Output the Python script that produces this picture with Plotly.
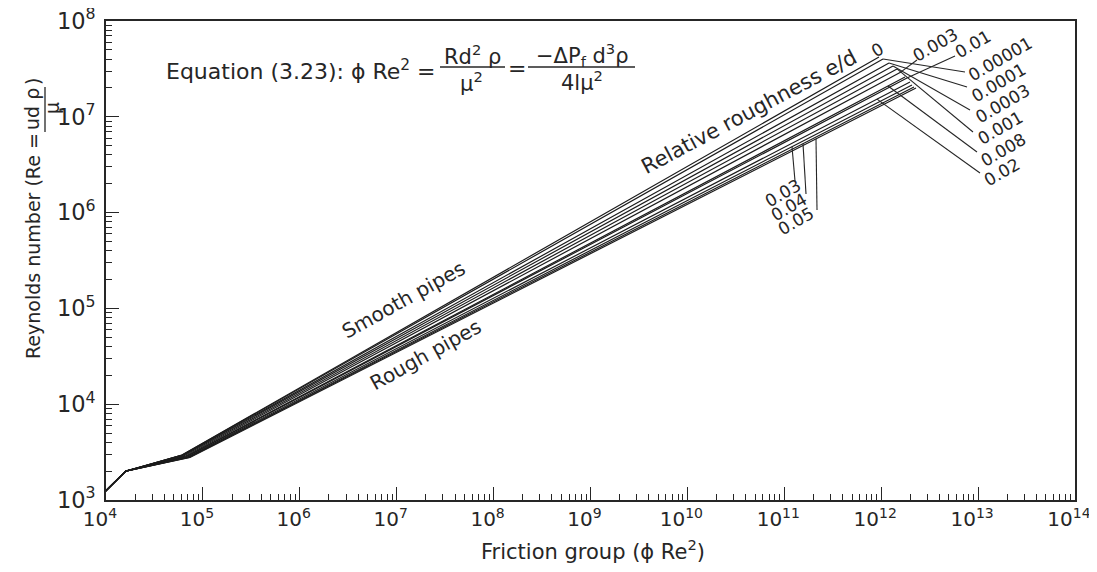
import numpy as np
import plotly.graph_objects as go

# ---------------- data ----------------
roughness = ["0", "0.00001", "0.0001", "0.0003", "0.001", "0.003",
             "0.008", "0.01", "0.02", "0.03", "0.04", "0.05"]

# laminar segment shared by all curves (phi Re^2 , Re)
laminar_x = [8.0e3, 1.6e4]
laminar_y = [1.0e3, 2.0e3]

# start of each turbulent curve (end of transition)
start_x = [6.09e4, 6.09e4, 6.16e4, 6.23e4, 6.38e4, 6.54e4,
           6.69e4, 6.77e4, 6.94e4, 7.10e4, 7.19e4, 7.36e4]
start_y = [2950, 2950, 2935, 2921, 2893, 2866,
           2838, 2825, 2804, 2791, 2784, 2777]

# upper end of each curve
end_x = [9.49e11, 1.044e12, 1.204e12, 1.324e12, 1.456e12, 1.601e12,
         1.761e12, 1.846e12, 1.982e12, 2.079e12, 2.180e12, 2.286e12]
end_y = [4.21e7, 4.01e7, 3.64e7, 3.39e7, 3.16e7, 2.94e7,
         2.60e7, 2.54e7, 2.31e7, 2.15e7, 2.05e7, 2.00e7]

# ---------------- figure ----------------
FONT = "DejaVu Sans"
INK = "#262626"
OFF = 8                            # default page (body) margin of the html page
L, R, T, B = 106, 1075, 21, 500    # plot area in window pixels
W, H = 1097 - 2 * OFF, 572 - 2 * OFF   # page fits the window exactly (no scrollbars)


def px(xp):
    return (xp - L) / (R - L)


def py(yp):
    return (B - yp) / (B - T)


fig = go.Figure()
curves = []
for i, r in enumerate(roughness):
    xs = laminar_x + [start_x[i], end_x[i]]
    ys = laminar_y + [start_y[i], end_y[i]]
    curves.append((np.log10(xs), np.log10(ys)))
    fig.add_trace(go.Scatter(x=xs, y=ys, mode="lines", name=r,
                             line=dict(color="#1c1c1c", width=1.2),
                             showlegend=False, hoverinfo="skip"))

axis_common = dict(
    type="log", dtick=1, exponentformat="power",
    showgrid=False, zeroline=False, showline=True, mirror=True,
    linecolor=INK, linewidth=1.5, automargin=False,
    ticks="inside", ticklen=13, tickwidth=1.2, tickcolor=INK,
    ticklabeloverflow="allow",
    minor=dict(ticks="inside", ticklen=6, tickwidth=1, tickcolor=INK,
               dtick="D1", showgrid=False),
)
fig.update_xaxes(range=[4, 14], ticklabelstandoff=1, ticklabelshift=-6,
                 tickfont=dict(family=FONT, size=16, color=INK), **axis_common)
fig.update_yaxes(range=[3, 8], ticklabelstandoff=5,
                 tickfont=dict(family=FONT, size=18, color=INK), **axis_common)

fig.update_layout(
    width=W, height=H,
    margin=dict(l=L - OFF, r=W - (R - OFF), t=T - OFF, b=H - (B - OFF),
                autoexpand=False),
    paper_bgcolor="white", plot_bgcolor="white",
    font=dict(family=FONT, color=INK, size=20),
    showlegend=False,
)

annotations = []
shapes = []


def text(t, xp, yp, size=20, angle=0, xanchor="center", yanchor="middle"):
    annotations.append(dict(text=t, x=px(xp), y=py(yp), xref="paper", yref="paper",
                            showarrow=False, textangle=angle,
                            xanchor=xanchor, yanchor=yanchor,
                            font=dict(family=FONT, size=size, color=INK)))


def seg(x0, y0, x1, y1, w=1.3):
    shapes.append(dict(type="line", xref="paper", yref="paper",
                       x0=px(x0), y0=py(y0), x1=px(x1), y1=py(y1),
                       line=dict(color=INK, width=w)))


# x-axis title
text("Friction group (ϕ Re<sup>2</sup>)", 593, 550, size=21)

# y-axis title with fraction
text("Reynolds number (Re =", 33, 246, size=19, angle=-90)
text("ud ρ", 32, 109, size=19, angle=-90)
seg(45, 87, 45, 132)
text("μ", 52, 108, size=19, angle=-90)
text(")", 33, 82, size=19, angle=-90)

# equation
text("Equation (3.23): ϕ Re<sup>2</sup> =", 438, 70, size=22, xanchor="right")
text("Rd<sup>2</sup> ρ", 472, 55, size=21)
seg(440, 67, 505, 67)
text("μ<sup>2</sup>", 471, 82, size=21)
text("=", 517, 68, size=22)
text("−ΔP<sub>f</sub> d<sup>3</sup>ρ", 582, 55, size=21)
seg(528, 67, 635, 67)
text("4lμ<sup>2</sup>", 582, 81, size=21)

# region labels
text("Smooth pipes", 403, 300, size=20, angle=-29)
text("Rough pipes", 425, 355, size=20, angle=-29)
text("Relative roughness e/d", 749, 112, size=21, angle=-28)

# curve labels (centre pixel positions)
label_pos = {
    "0": (877, 50), "0.003": (935, 45), "0.01": (973, 44),
    "0.00001": (1000, 59), "0.0001": (998, 83), "0.0003": (1002, 104),
    "0.001": (1000, 128), "0.008": (1003, 150), "0.02": (1002, 172),
    "0.03": (783, 193), "0.04": (789, 207), "0.05": (796, 221),
}
for name, (xp, yp) in label_pos.items():
    text(name, xp, yp, size=17, angle=-30)


# leader lines: from a point on the curve (at a pixel x, or the curve end) to the label
def curve_point(idx, xp=None):
    lx, ly = curves[idx]
    if xp is None:
        return lx[-1], ly[-1]
    xv = 4 + (xp - L) / ((R - L) / 10)
    return xv, float(np.interp(xv, lx, ly))


def to_pix(lxv, lyv):
    return L + (lxv - 4) * (R - L) / 10, B - (lyv - 3) * (B - T) / 5


leaders = [  # (curve index, head pixel x or None, tail pixel x, tail pixel y)
    (1, None, 965, 72), (2, None, 967, 87), (3, None, 970, 110),
    (4, None, 973, 132), (6, 888, 977, 152), (8, 877, 980, 173),
    (5, None, 917, 60), (7, None, 955, 56),
    (9, 792, 795, 181), (10, 803, 806, 194), (11, 816, 817, 210),
]
for idx, hx, tx, ty in leaders:
    hxp, hyp = to_pix(*curve_point(idx, hx))
    seg(hxp, hyp, tx, ty, w=1.1)

fig.update_layout(annotations=annotations, shapes=shapes)
fig.write_html("out.html")
